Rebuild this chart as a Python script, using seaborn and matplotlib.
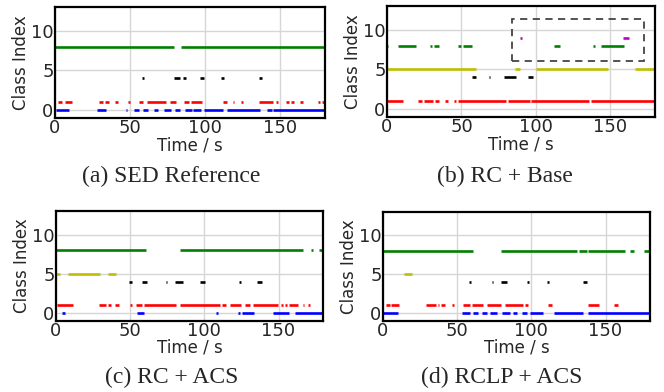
import numpy as np
import pandas as pd
import matplotlib
matplotlib.use("Agg")
import matplotlib.pyplot as plt
from matplotlib.patches import Rectangle
import seaborn as sns

# ---------------- data: (start, end) segments in seconds per class ----------------
CLASS_COLORS = {0: "#0000ff", 1: "#ff0000", 4: "#000000", 5: "#bfbf00", 8: "#008000", 9: "#bf00bf"}

A_CLS0 = [(0.7, 9.6), (28.2, 34), (47.3, 48.2), (52.7, 56.2), (58.9, 62.2), (66, 68.9), (72.9, 77.1),
          (80, 83.3), (86.7, 91), (92.2, 97.3), (99.6, 112.2), (114.5, 136.7), (141.1, 144.5), (145.6, 180)]
A_CLS1 = [(2.2, 4.4), (6.7, 11.1), (29.6, 31.8), (33.3, 36.2), (40, 42.2), (48.9, 50), (56.2, 58.4),
          (61.1, 74), (76.7, 80.4), (86, 89.3), (90.7, 97.8), (112.2, 114.5), (118.5, 119.3), (124, 125.6),
          (136, 145.6), (147.1, 148.9), (154, 156), (157.3, 159.1), (163.6, 165.6), (175.1, 176.7), (178, 180)]
A_CLS4 = [(57.8, 59.5), (79.5, 83), (85, 87.5), (96.5, 99), (110.7, 112.5), (136, 138)]
A_CLS8 = [(0, 79), (84, 180)]

B_CLS1 = [(0, 11), (21, 23.5), (25, 31), (32, 35), (39, 41), (45, 46.5), (48, 80), (81, 96), (97, 136), (137, 180)]
B_CLS4 = [(57, 59.6), (68.2, 69.2), (78.5, 86.5), (94.5, 98)]
B_CLS5 = [(0, 59.6), (86.2, 89.6), (99.8, 148.2), (166.8, 180)]
B_CLS8 = [(0, 1), (7.3, 19.6), (29, 30.5), (31.5, 35), (47.8, 49.6), (51.3, 57.3), (112.4, 116.2),
          (138.6, 139.5), (143.5, 158.9)]
B_CLS9 = [(89.5, 90.6), (158.4, 162.4)]
B_ZOOM_BOX = (84, 6.1, 172.5, 11.3)

C_CLS0 = [(4, 6), (54.5, 59), (107.7, 109), (122.4, 124.3), (125.4, 133.4), (146.5, 157), (161, 180)]
C_CLS1 = [(0.5, 11.4), (29, 33.4), (35, 36.8), (39.5, 42.5), (50, 51), (54, 58), (59.5, 81), (83.4, 110.6),
          (112.2, 114.7), (117.4, 125), (127.7, 130.6), (132.7, 149.7), (151.5, 152.7), (154.3, 156),
          (157, 163), (166.3, 167.4), (170.2, 171.3)]
C_CLS4 = [(49.3, 50.9), (58, 61.1), (74.3, 75), (80, 85.7), (97, 100.4), (123.1, 124.7), (135.6, 139)]
C_CLS5 = [(0, 2.5), (8, 29.8), (35, 40.7)]
C_CLS8 = [(0, 60.7), (83.4, 166.4), (172, 173.4), (177, 179.5)]

D_CLS0 = [(0, 10), (53.5, 58.5), (60.8, 64), (66.7, 70), (72.3, 76.6), (80, 85.6), (87.8, 90), (93.5, 96.8),
          (99, 108), (115, 135), (138.5, 180)]
D_CLS1 = [(2.3, 4.5), (5.6, 10.6), (28.8, 35.6), (37, 38), (39.4, 41.7), (46.8, 47.7), (53.6, 58.5),
          (59.7, 67.5), (69.8, 79.7), (82, 94.4), (95.5, 98), (111.5, 113.7), (138, 145.3), (155.9, 158.1)]
D_CLS4 = [(58.1, 59), (73.6, 74.3), (79.5, 83.3), (96.8, 98.6), (110.8, 112.2), (134.7, 137.4)]
D_CLS5 = [(14, 19.8)]
D_CLS8 = [(0, 60.4), (79.5, 130.6), (131.8, 137.4), (138.5, 163.3), (166.2, 169.4), (175.7, 179)]

CAPTIONS = ["(a) SED Reference", "(b) RC + Base", "(c) RC + ACS", "(d) RCLP + ACS"]
XTICKS = [0, 50, 100, 150]
YTICKS = [0, 5, 10]

PANELS = [
    {0: A_CLS0, 1: A_CLS1, 4: A_CLS4, 8: A_CLS8},
    {1: B_CLS1, 4: B_CLS4, 5: B_CLS5, 8: B_CLS8, 9: B_CLS9},
    {0: C_CLS0, 1: C_CLS1, 4: C_CLS4, 5: C_CLS5, 8: C_CLS8},
    {0: D_CLS0, 1: D_CLS1, 4: D_CLS4, 5: D_CLS5, 8: D_CLS8},
]


def to_frame(panel):
    rows = []
    seg = 0
    for cls, segs in panel.items():
        for s, e in segs:
            rows.append((s, cls, seg))
            rows.append((e, cls, seg))
            seg += 1
    return pd.DataFrame(rows, columns=["t", "cls", "seg"])


# ---------------- figure ----------------
sns.set_style("whitegrid", {"grid.color": "#d6d6d6", "axes.edgecolor": "black"})
plt.rcParams["font.family"] = ["DejaVu Sans"]

W, H = 664, 392
fig = plt.figure(figsize=(W / 100, H / 100), dpi=100)

# axes boxes in pixels: left, top, right, bottom
BOXES = [(55, 7, 325, 118), (387, 6, 655, 117), (56, 211, 323, 321), (383, 212, 650, 321)]
CAP_POS = [(171, 176), (505, 176), (172, 377), (502, 377)]

for i, (panel, box) in enumerate(zip(PANELS, BOXES)):
    l, t, r, b = box
    ax = fig.add_axes([l / W, 1 - b / H, (r - l) / W, (b - t) / H])
    df = to_frame(panel)
    sns.lineplot(data=df, x="t", y="cls", hue="cls", units="seg", estimator=None, sort=False,
                 palette=CLASS_COLORS, legend=False, linewidth=1.9, ax=ax)
    for line in ax.lines:
        line.set_solid_capstyle("butt")
    ax.set_xlim(0, 180)
    ax.set_ylim(-1, 13)
    ax.set_xticks(XTICKS)
    ax.set_yticks(YTICKS)
    ax.tick_params(labelsize=13, length=0, pad=1)
    ax.set_xlabel("Time / s", fontsize=12, labelpad=-1)
    ax.set_ylabel("Class Index", fontsize=12, labelpad=1)
    for sp in ax.spines.values():
        sp.set_color("black")
        sp.set_linewidth(1.6)
    ax.grid(True, color="#d6d6d6", linewidth=1)
    if i == 1:
        x0, y0, x1, y1 = B_ZOOM_BOX
        ax.add_patch(Rectangle((x0, y0), x1 - x0, y1 - y0, fill=False, edgecolor="#444444",
                               linestyle=(0, (4, 3)), linewidth=1.3, zorder=5))
    cx, cy = CAP_POS[i]
    fig.text(cx / W, 1 - cy / H, CAPTIONS[i], ha="center", va="center", fontsize=17,
             family=["Liberation Serif"])

fig.savefig("out.png", dpi=100)
